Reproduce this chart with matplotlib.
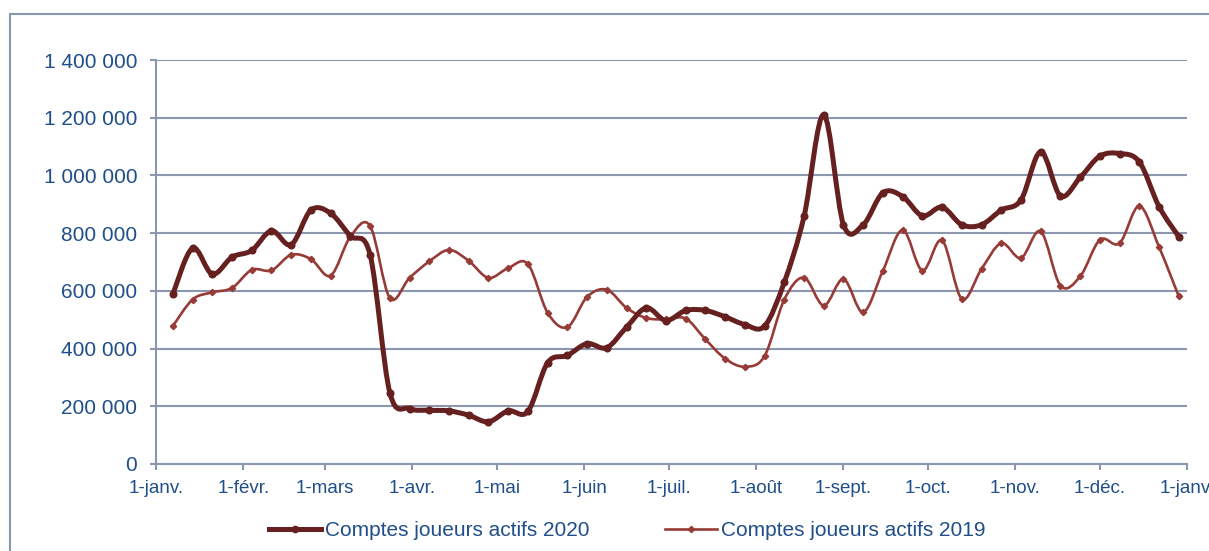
import matplotlib
matplotlib.use('Agg')
import matplotlib.pyplot as plt
import matplotlib.dates as mdates
from matplotlib.path import Path
from matplotlib.patches import PathPatch
from matplotlib.lines import Line2D
import numpy as np
import pandas as pd

plt.rcParams['font.family'] = ['Liberation Sans', 'DejaVu Sans']

# semaines 2020 (un point par semaine)
weeks = pd.date_range('2020-01-07', periods=52, freq='7D')

actifs_2020 = [589000, 748000, 658000, 717000, 740000, 808000, 760000, 880000,
               869000, 790000, 725000, 247000, 192000, 186000, 184000, 169000,
               146000, 184000, 182000, 351000, 376000, 417000, 403000, 474000,
               541000, 497000, 532000, 532000, 510000, 483000, 478000, 630000,
               858000, 1210000, 829000, 829000, 940000, 927000, 860000, 890000,
               829000, 829000, 880000, 915000, 1082000, 929000, 993000, 1067000,
               1076000, 1047000, 892000, 788000]

actifs_2019 = [478000, 570000, 595000, 610000, 673000, 671000, 725000, 710000,
               653000, 788000, 825000, 575000, 645000, 702000, 742000, 704000,
               645000, 679000, 693000, 524000, 474000, 579000, 604000, 541000,
               506000, 501000, 504000, 432000, 365000, 337000, 374000, 570000,
               646000, 549000, 641000, 526000, 670000, 811000, 670000, 775000,
               572000, 676000, 765000, 714000, 806000, 618000, 650000, 777000,
               765000, 894000, 752000, 581000]

month_starts = pd.date_range('2020-01-01', periods=13, freq='MS')
month_labels = ['1-janv.', '1-févr.', '1-mars', '1-avr.', '1-mai', '1-juin',
                '1-juil.', '1-août', '1-sept.', '1-oct.', '1-nov.', '1-déc.',
                '1-janv.']

c2020 = '#65201F'
c2019 = '#973B37'
grid_c = '#8B97AF'
txt_c = '#1F4E8A'


def smooth_path(x, y):
    # courbe lissée façon Excel (bezier passant par chaque point)
    x = np.asarray(x, float)
    y = np.asarray(y, float)
    verts = [(x[0], y[0])]
    codes = [Path.MOVETO]
    n = len(x)
    for i in range(n - 1):
        i0 = max(i - 1, 0)
        i3 = min(i + 2, n - 1)
        c1 = (x[i] + (x[i + 1] - x[i0]) / 6, y[i] + (y[i + 1] - y[i0]) / 6)
        c2 = (x[i + 1] - (x[i3] - x[i]) / 6, y[i + 1] - (y[i3] - y[i]) / 6)
        verts += [c1, c2, (x[i + 1], y[i + 1])]
        codes += [Path.CURVE4] * 3
    return Path(verts, codes)


fig = plt.figure(figsize=(12.09, 5.51), dpi=100)
ax = fig.add_axes([0.129, 0.158, 0.853, 0.733])

xd = mdates.date2num(weeks)

ax.add_patch(PathPatch(smooth_path(xd, actifs_2019), facecolor='none',
                       edgecolor=c2019, lw=1.9, capstyle='round', zorder=3))
ax.plot(xd, actifs_2019, ls='none', marker='D', ms=3.2, color=c2019, zorder=4)

ax.add_patch(PathPatch(smooth_path(xd, actifs_2020), facecolor='none',
                       edgecolor=c2020, lw=3.6, capstyle='round', zorder=5))
ax.plot(xd, actifs_2020, ls='none', marker='o', ms=4.8, color=c2020, zorder=6)

xt = mdates.date2num(month_starts)
ax.set_xlim(xt[0], xt[-1])
ax.set_ylim(0, 1400000)
ax.set_xticks(xt)
ax.set_xticklabels(month_labels)
yt = np.arange(0, 1400001, 200000)
ax.set_yticks(yt)
ax.set_yticklabels([f'{v:,}'.replace(',', ' ') for v in yt])

ax.grid(axis='y', color=grid_c, lw=1.5)
ax.set_axisbelow(True)
for s in ['top', 'right']:
    ax.spines[s].set_visible(False)
for s in ['left', 'bottom']:
    ax.spines[s].set_color(grid_c)
    ax.spines[s].set_linewidth(1.5)
ax.tick_params(axis='y', colors=grid_c, labelcolor=txt_c, labelsize=15,
               length=4.5, width=1.5, pad=9)
ax.tick_params(axis='x', colors=grid_c, labelcolor=txt_c, labelsize=13.5,
               length=4, width=1.5, pad=7.5)

# cadre extérieur du graphique
fig.add_artist(Line2D([10 / 1209, 1], [537 / 551, 537 / 551], color=grid_c, lw=1.5))
fig.add_artist(Line2D([10 / 1209, 10 / 1209], [0, 537 / 551], color=grid_c, lw=1.5))

handles = [Line2D([], [], color=c2020, lw=3.6, marker='o', ms=4.5),
           Line2D([], [], color=c2019, lw=1.9, marker='D', ms=3.2)]
leg = fig.legend(handles, ['Comptes joueurs actifs 2020', 'Comptes joueurs actifs 2019'],
                 loc='center', bbox_to_anchor=(0.519, 20 / 551), ncol=2,
                 frameon=False, fontsize=15, handlelength=2.5,
                 handletextpad=0.2, columnspacing=3.6)
for t in leg.get_texts():
    t.set_color(txt_c)

fig.savefig('out.png', dpi=100)
plt.close(fig)
